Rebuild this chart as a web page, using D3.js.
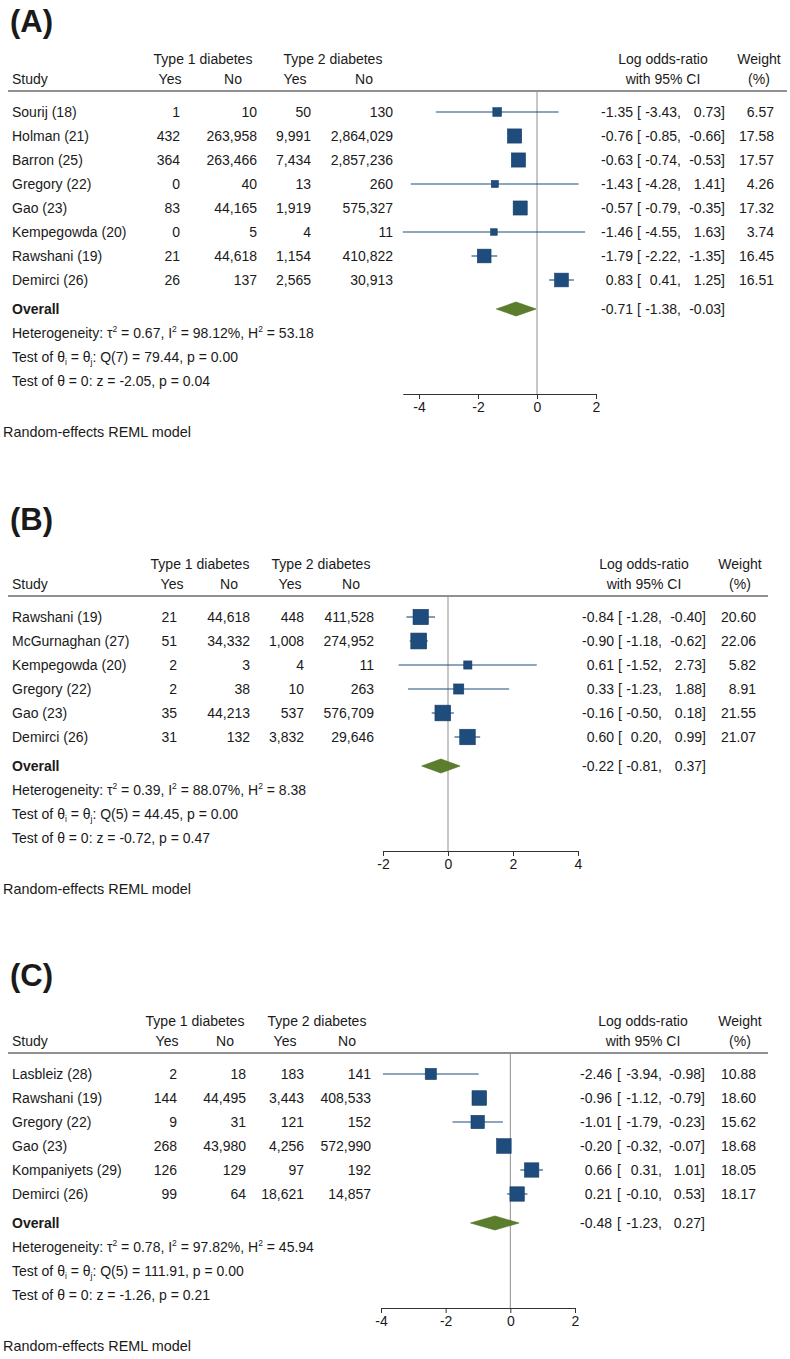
<!DOCTYPE html>
<html>
<head>
<meta charset="utf-8">
<script src="https://cdn.jsdelivr.net/npm/d3@7"></script>
<style>
  body { margin: 0; background: #fff; }
  svg text { font-family: "Liberation Sans", Arial, Helvetica, sans-serif; fill: #1a1a1a; }
</style>
</head>
<body>
<svg id="chart" width="790" height="1359"></svg>
<script>
// ---- panel A ----
var studiesA = ["Sourij (18)", "Holman (21)", "Barron (25)", "Gregory (22)", "Gao (23)", "Kempegowda (20)", "Rawshani (19)", "Demirci (26)"];
var t1YesA = [1, 432, 364, 0, 83, 0, 21, 26];
var t1NoA = [10, 263958, 263466, 40, 44165, 5, 44618, 137];
var t2YesA = [50, 9991, 7434, 13, 1919, 4, 1154, 2565];
var t2NoA = [130, 2864029, 2857236, 260, 575327, 11, 410822, 30913];
var estA = [-1.35, -0.76, -0.63, -1.43, -0.57, -1.46, -1.79, 0.83];
var lowA = [-3.43, -0.85, -0.74, -4.28, -0.79, -4.55, -2.22, 0.41];
var highA = [0.73, -0.66, -0.53, 1.41, -0.35, 1.63, -1.35, 1.25];
var weightA = [6.57, 17.58, 17.57, 4.26, 17.32, 3.74, 16.45, 16.51];
var overallA = [-0.71, -1.38, -0.03];
var statsA = [0.67, 98.12, 53.18, 7, 79.44, 0.00, -2.05, 0.04]; // tau2, I2, H2, df, Q, p, z, p
var ticksA = [-4, -2, 0, 2];

// ---- panel B ----
var studiesB = ["Rawshani (19)", "McGurnaghan (27)", "Kempegowda (20)", "Gregory (22)", "Gao (23)", "Demirci (26)"];
var t1YesB = [21, 51, 2, 2, 35, 31];
var t1NoB = [44618, 34332, 3, 38, 44213, 132];
var t2YesB = [448, 1008, 4, 10, 537, 3832];
var t2NoB = [411528, 274952, 11, 263, 576709, 29646];
var estB = [-0.84, -0.90, 0.61, 0.33, -0.16, 0.60];
var lowB = [-1.28, -1.18, -1.52, -1.23, -0.50, 0.20];
var highB = [-0.40, -0.62, 2.73, 1.88, 0.18, 0.99];
var weightB = [20.60, 22.06, 5.82, 8.91, 21.55, 21.07];
var overallB = [-0.22, -0.81, 0.37];
var statsB = [0.39, 88.07, 8.38, 5, 44.45, 0.00, -0.72, 0.47];
var ticksB = [-2, 0, 2, 4];

// ---- panel C ----
var studiesC = ["Lasbleiz (28)", "Rawshani (19)", "Gregory (22)", "Gao (23)", "Kompaniyets (29)", "Demirci (26)"];
var t1YesC = [2, 144, 9, 268, 126, 99];
var t1NoC = [18, 44495, 31, 43980, 129, 64];
var t2YesC = [183, 3443, 121, 4256, 97, 18621];
var t2NoC = [141, 408533, 152, 572990, 192, 14857];
var estC = [-2.46, -0.96, -1.01, -0.20, 0.66, 0.21];
var lowC = [-3.94, -1.12, -1.79, -0.32, 0.31, -0.10];
var highC = [-0.98, -0.79, -0.23, -0.07, 1.01, 0.53];
var weightC = [10.88, 18.60, 15.62, 18.68, 18.05, 18.17];
var overallC = [-0.48, -1.23, 0.27];
var statsC = [0.78, 97.82, 45.94, 5, 111.91, 0.00, -1.26, 0.21];
var ticksC = [-4, -2, 0, 2];

var svg = d3.select("#chart");
var blue = "#1d4c7d", green = "#5b7e2c";
var comma = d3.format(",");
var f2 = function (v) { return v.toFixed(2); };

function rich(text, parts) {
  // parts: [string, shift] shift 1 = superscript, -1 = subscript
  var cur = 0;
  parts.forEach(function (p) {
    var target = p[1] === 1 ? -6 : p[1] === -1 ? 3 : 0;
    var t = text.append("tspan").attr("dy", target - cur).text(p[0]);
    if (p[1] !== 0) t.style("font-size", "8.5px");
    cur = target;
  });
}

function drawPanel(p, L) {
  var g = svg.append("g");
  var n = p.studies.length;
  var rowY = function (i) { return L.ruleY + 21 + i * 24; };
  var yO = rowY(n - 1) + 29;
  var axisY = yO + 85;

  g.append("text").attr("x", 10).attr("y", L.labelY)
    .style("font-size", "31px").style("font-weight", "bold").text(L.label);

  // header
  var h1 = L.ruleY - 27, h2 = L.ruleY - 7;
  function head(x, y, s, anchor) {
    g.append("text").attr("x", x).attr("y", y).attr("text-anchor", anchor || "middle")
      .style("font-size", "14px").text(s);
  }
  head(L.type1, h1, "Type 1 diabetes");
  head(L.type2, h1, "Type 2 diabetes");
  head(12, h2, "Study", "start");
  head(L.yes1, h2, "Yes"); head(L.no1, h2, "No");
  head(L.yes2, h2, "Yes"); head(L.no2, h2, "No");
  head(L.lor, h1, "Log odds-ratio"); head(L.lor, h2, "with 95% CI");
  head(L.wt, h1, "Weight"); head(L.wt, h2, "(%)");

  g.append("line").attr("x1", 8).attr("x2", L.ruleEnd)
    .attr("y1", L.ruleY).attr("y2", L.ruleY)
    .attr("stroke", "#222").attr("stroke-width", 1.2);

  // scale
  var t = p.ticks;
  var x0 = d3.scaleLinear().domain([t[0], t[t.length - 1]]).range([L.px0, L.px1]);
  var dom = [Math.min(t[0], d3.min(p.low)), Math.max(t[t.length - 1], d3.max(p.high))];
  var x = d3.scaleLinear().domain(dom).range(dom.map(x0));

  g.append("line").attr("x1", x(0)).attr("x2", x(0))
    .attr("y1", L.ruleY).attr("y2", axisY)
    .attr("stroke", "#8f8f8f").attr("stroke-width", 1);

  function cell(xp, y, s, anchor, bold) {
    return g.append("text").attr("x", xp).attr("y", y + 5)
      .attr("text-anchor", anchor).style("font-size", "14px")
      .style("font-weight", bold ? "bold" : null).text(s);
  }
  function ciText(y, e, lo, hi) {
    cell(L.estR, y, f2(e), "end");
    cell(L.brk, y, "[", "start");
    cell(L.loR, y, f2(lo) + ",", "end");
    cell(L.hiR, y, f2(hi) + "]", "end");
  }

  p.studies.forEach(function (s, i) {
    var y = rowY(i);
    cell(12, y, s, "start");
    cell(L.c1, y, comma(p.t1Yes[i]), "end");
    cell(L.c2, y, comma(p.t1No[i]), "end");
    cell(L.c3, y, comma(p.t2Yes[i]), "end");
    cell(L.c4, y, comma(p.t2No[i]), "end");
    ciText(y, p.est[i], p.low[i], p.high[i]);
    cell(L.wtR, y, f2(p.weight[i]), "end");

    g.append("line").attr("x1", x(p.low[i])).attr("x2", x(p.high[i]))
      .attr("y1", y).attr("y2", y).attr("stroke", blue).attr("stroke-width", 1.1);
    var side = 3.38 * Math.sqrt(p.weight[i]);
    g.append("rect").attr("x", x(p.est[i]) - side / 2).attr("y", y - side / 2)
      .attr("width", side).attr("height", side)
      .attr("fill", blue).attr("stroke", "#163d66").attr("stroke-width", 0.6);
  });

  // overall
  cell(12, yO, "Overall", "start", true);
  ciText(yO, p.overall[0], p.overall[1], p.overall[2]);
  var o = p.overall;
  g.append("polygon")
    .attr("points", [[x(o[1]), yO], [x(o[0]), yO - 7], [x(o[2]), yO], [x(o[0]), yO + 7]].join(" "))
    .attr("fill", green).attr("stroke", "#4c6b22").attr("stroke-width", 0.6);

  var st = p.stats;
  var l1 = g.append("text").attr("x", 12).attr("y", yO + 24 + 5).style("font-size", "14px");
  rich(l1, [["Heterogeneity: \u03c4", 0], ["2", 1], [" = " + f2(st[0]) + ", I", 0], ["2", 1],
    [" = " + f2(st[1]) + "%, H", 0], ["2", 1], [" = " + f2(st[2]), 0]]);
  var l2 = g.append("text").attr("x", 12).attr("y", yO + 48 + 5).style("font-size", "14px");
  rich(l2, [["Test of \u03b8", 0], ["i", -1], [" = \u03b8", 0], ["j", -1],
    [": Q(" + st[3] + ") = " + f2(st[4]) + ", p = " + f2(st[5]), 0]]);
  var l3 = g.append("text").attr("x", 12).attr("y", yO + 72 + 5).style("font-size", "14px");
  rich(l3, [["Test of \u03b8 = 0: z = " + f2(st[6]) + ", p = " + f2(st[7]), 0]]);

  // axis
  var ax = g.append("g").attr("transform", "translate(0," + axisY + ")")
    .call(d3.axisBottom(x).tickValues(t).tickSize(5).tickSizeOuter(0)
      .tickFormat(function (d) { return String(d); }));
  ax.attr("font-family", null).attr("font-size", null);
  ax.selectAll("path, line").attr("stroke", "#333");
  ax.selectAll("text").style("font-size", "14px").attr("fill", "#1a1a1a");

  g.append("text").attr("x", 3).attr("y", yO + 123 + 5)
    .style("font-size", "14.4px").text("Random-effects REML model");
}

drawPanel(
  { studies: studiesA, t1Yes: t1YesA, t1No: t1NoA, t2Yes: t2YesA, t2No: t2NoA,
    est: estA, low: lowA, high: highA, weight: weightA, overall: overallA, stats: statsA, ticks: ticksA },
  { label: "(A)", labelY: 32, ruleY: 91, ruleEnd: 787,
    c1: 180, c2: 257, c3: 311, c4: 393,
    type1: 203, type2: 333, yes1: 170, no1: 233, yes2: 295, no2: 364,
    px0: 419, px1: 596, estR: 633, brk: 637, loR: 681, hiR: 725, wtR: 774, lor: 663, wt: 759 });

drawPanel(
  { studies: studiesB, t1Yes: t1YesB, t1No: t1NoB, t2Yes: t2YesB, t2No: t2NoB,
    est: estB, low: lowB, high: highB, weight: weightB, overall: overallB, stats: statsB, ticks: ticksB },
  { label: "(B)", labelY: 530, ruleY: 596, ruleEnd: 768,
    c1: 177, c2: 250, c3: 304, c4: 374,
    type1: 200, type2: 321, yes1: 172, no1: 229, yes2: 290, no2: 351,
    px0: 383, px1: 578, estR: 614, brk: 618, loR: 662, hiR: 706, wtR: 756, lor: 644, wt: 740 });

drawPanel(
  { studies: studiesC, t1Yes: t1YesC, t1No: t1NoC, t2Yes: t2YesC, t2No: t2NoC,
    est: estC, low: lowC, high: highC, weight: weightC, overall: overallC, stats: statsC, ticks: ticksC },
  { label: "(C)", labelY: 986, ruleY: 1053, ruleEnd: 768,
    c1: 177, c2: 246, c3: 304, c4: 371,
    type1: 195, type2: 317, yes1: 167, no1: 225, yes2: 285, no2: 347,
    px0: 381, px1: 575, estR: 612, brk: 617, loR: 662, hiR: 705, wtR: 756, lor: 643, wt: 740 });
</script>
</body>
</html>
